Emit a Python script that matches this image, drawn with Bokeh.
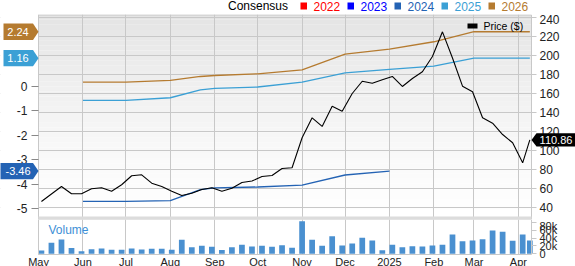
import pandas as pd
from bokeh.plotting import figure
from bokeh.models import Range1d, LinearAxis, FixedTicker
from bokeh.core.properties import value
from bokeh.layouts import column
from bokeh.embed import file_html
from bokeh.resources import INLINE

FONT = "Liberation Sans"

# ---------------- data ----------------
week_dates = list(pd.date_range("2024-05-03", "2025-04-04", freq="7D")) + [pd.Timestamp("2025-04-09")]
price = [46.0, 53.9, 61.8, 54.1, 54.1, 59.4, 60.4, 56.8, 63.6, 73.1,
         74.1, 65.3, 61.8, 56.8, 52.3, 54.7, 58.6, 60.4, 56.8, 60.0,
         66.0, 67.5, 72.3, 73.4, 80.7, 81.5, 113.1, 134.1, 125.0, 146.3,
         141.1, 159.7, 172.6, 170.5, 174.1, 177.6, 167.1, 175.5, 182.5, 198.6,
         224.6, 197.0, 167.4, 161.5, 134.1, 128.4, 116.5, 107.8, 86.7, 110.86]
volume_k = [8.4, 27.8, 36.0, 15.0, 6.6, 11.6, 13.4, 10.0, 10.0, 13.4,
            10.9, 12.6, 12.6, 10.0, 35.4, 16.8, 20.2, 17.6, 9.5, 16.8,
            22.7, 18.5, 20.2, 17.6, 21.8, 15.2, 82.5, 35.4, 20.2, 44.6,
            21.0, 26.0, 40.5, 33.7, 9.2, 22.7, 16.8, 19.4, 18.5, 21.0,
            22.7, 48.9, 32.0, 33.7, 37.0, 59.0, 55.7, 33.0, 48.9, 33.7]

est_dates = ["2024-06-01", "2024-07-01", "2024-08-01", "2024-08-22", "2024-09-01",
             "2024-10-01", "2024-11-01", "2024-12-01", "2025-01-01", "2025-02-01",
             "2025-03-01", "2025-04-01", "2025-04-09"]
eps_2026 = [0.18, 0.18, 0.25, 0.41, 0.45, 0.52, 0.68, 1.32, 1.53, 1.83, 2.24, 2.24, 2.24]
eps_2025 = [-0.57, -0.57, -0.46, -0.14, -0.08, -0.02, 0.18, 0.56, 0.70, 0.83, 1.16, 1.16, 1.16]
eps_2024 = [-4.70, -4.70, -4.67, -4.22, -4.15, -4.11, -4.03, -3.62, -3.46]

month_starts = ["2024-05-01", "2024-06-01", "2024-07-01", "2024-08-01", "2024-09-01",
                "2024-10-01", "2024-11-01", "2024-12-01", "2025-01-01", "2025-02-01",
                "2025-03-01", "2025-04-01"]
month_labels = ["May", "Jun", "Jul", "Aug", "Sep", "Oct", "Nov", "Dec", "2025", "Feb", "Mar", "Apr"]
price_ticks = [40, 60, 80, 100, 120, 140, 160, 180, 200, 220, 240]
eps_ticks = [0, -1, -2, -3, -4, -5]
vol_ticks = [0, 20, 40, 60, 80]
vol_labels = ["0", "20k", "40k", "60k", "80k"]

legend_title = "Consensus"
legend_years = ["2022", "2023", "2024", "2025", "2026"]
c2024, c2025, c2026 = "#2463b4", "#3ba0d5", "#b57b30"
legend_colors = ["#ff0000", "#0000ff", c2024, c2025, c2026]
GRID = "#c8c8c8"
LABEL_COLOR = "#222222"


def ms(s):
    return int(pd.Timestamp(s).value // 10**6)


# ---------------- geometry (canvas pixels) ----------------
W = 575
PL, PR = 38, 531                 # plot-area x extent
LEG_H = 14                       # legend strip height
MAIN_H = 205                     # main panel height (canvas 14..219)
VOL_H = 266 - LEG_H - MAIN_H     # volume panel + date labels (canvas 219..266)
VOL_BOTTOM = 254                 # bottom of the volume plot area

A, B = ms("2024-04-30 23:00"), ms("2025-04-10 04:00")
pp = (B - A) / (PR - PL)
xr = Range1d(A - PL * pp, B + (W - PR) * pp)


def xd(px):
    return A + (px - PL) * pp


month_ms = [ms(d) for d in month_starts]

# ---------------- legend strip ----------------
lg = figure(width=W, height=LEG_H, x_range=Range1d(0, W), y_range=Range1d(LEG_H, 0),
            x_axis_location=None, y_axis_location=None, title=None,
            output_backend="svg", toolbar_location=None,
            min_border_left=0, min_border_right=0, min_border_top=0, min_border_bottom=0,
            background_fill_color="white", border_fill_color="white", outline_line_color=None)
lg.grid.visible = False
leg_y = 5.5
sq_x = [300 + i * 47 for i in range(len(legend_years))]
lg.text(x=[227.5], y=[leg_y], text=[legend_title], text_color="black", text_font=value(FONT),
        text_font_size="12px", text_baseline="middle", text_align="left")
lg.quad(left=sq_x, right=[s + 6.5 for s in sq_x], top=[leg_y - 3.5] * 5, bottom=[leg_y + 3.5] * 5,
        fill_color=legend_colors, line_color=None)
lg.text(x=[s + 13 for s in sq_x], y=[leg_y] * 5, text=legend_years, text_color=legend_colors,
        text_font=value(FONT), text_font_size="12px", text_baseline="middle", text_align="left")

# ---------------- main panel ----------------
p_lo, p_hi = 27.05, 242.84
e_lo, e_hi = -5.44, 2.945


def yp(cy):
    return p_hi - (cy - LEG_H) * (p_hi - p_lo) / MAIN_H


def ye_px(npx):
    return npx * (e_hi - e_lo) / MAIN_H


p = figure(width=W, height=MAIN_H, x_range=xr, y_range=Range1d(p_lo, p_hi), title=None,
           x_axis_type="datetime", x_axis_location=None, y_axis_location="right",
           output_backend="svg", toolbar_location=None,
           min_border_left=0, min_border_right=0, min_border_top=0, min_border_bottom=0,
           background_fill_color="white", border_fill_color="white", outline_line_color=None)

# soft vertical gradient background of the plot area
nb = 40
step = (p_hi - p_lo) / nb
g_bot = [p_lo + i * step for i in range(nb)]
g_col = []
for i in range(nb):
    frac = (i + 0.5) / nb
    g = int(round(255 - 27 * frac ** 1.3))
    g_col.append(f"#{g:02x}{g:02x}{g:02x}")
p.quad(left=A, right=B, bottom=g_bot, top=[b + step for b in g_bot],
       fill_color=g_col, line_color=None, level="underlay")

p.xgrid.ticker = FixedTicker(ticks=month_ms)
p.yaxis.ticker = FixedTicker(ticks=price_ticks)
p.grid.grid_line_color = GRID

# keep grid lines inside the plot area
p.quad(left=[xr.start, B], right=[A, xr.end], bottom=p_lo, top=p_hi, fill_color="white", line_color=None)

ax = p.yaxis[0]
ax.fixed_location = B
ax.axis_line_color = None
ax.major_tick_out = 5
ax.major_tick_in = 0
ax.minor_tick_line_color = None
ax.major_tick_line_color = GRID
ax.major_label_standoff = 3
ax.major_label_text_font = FONT
ax.major_label_text_font_size = "12px"
ax.major_label_text_color = LABEL_COLOR

p.extra_y_ranges = {"eps": Range1d(e_lo, e_hi)}
lax = LinearAxis(y_range_name="eps", ticker=FixedTicker(ticks=eps_ticks), fixed_location=A,
                 major_label_overrides={t: str(t) for t in eps_ticks})
lax.axis_line_color = None
lax.major_tick_out = 7
lax.major_tick_in = 0
lax.major_tick_line_color = "#888888"
lax.minor_tick_line_color = None
lax.major_label_standoff = 4
lax.major_label_text_font = FONT
lax.major_label_text_font_size = "12px"
lax.major_label_text_color = LABEL_COLOR
p.add_layout(lax, "left")

est_x = pd.to_datetime(est_dates)
p.line(est_x, eps_2026, color=c2026, line_width=1.3, y_range_name="eps")
p.line(est_x, eps_2025, color=c2025, line_width=1.3, y_range_name="eps")
p.line(est_x[:len(eps_2024)], eps_2024, color=c2024, line_width=1.3, y_range_name="eps")
p.line(pd.to_datetime(week_dates), price, color="black", line_width=1.1)

# plot-area border and separator band
p.quad(left=A, right=B, bottom=p_lo, top=yp(14.5), fill_color=None, line_color=GRID)
p.quad(left=A, right=B, bottom=p_lo, top=yp(216), fill_color="#dcdcdc", line_color=None)

# price legend
p.quad(left=xd(467), right=xd(477), top=yp(23), bottom=yp(28), fill_color="black", line_color=None)
p.text(x=[xd(483)], y=[yp(25.5)], text=["Price ($)"], text_color="black", text_font=value(FONT),
       text_font_size="10.5px", text_baseline="middle", text_align="left")

# left value badges (last consensus values), drawn above the axis labels
b_vals = [eps_2026[-1], eps_2025[-1], eps_2024[-1]]
b_cols = [c2026, c2025, c2024]
b_left = [3, 3, 0]
h = ye_px(8.2)
p.patches(xs=[[xd(l), xd(32.5), xd(38), xd(32.5), xd(l)] for l in b_left],
          ys=[[v + h, v + h, v, v - h, v - h] for v in b_vals],
          fill_color=b_cols, line_color=None, y_range_name="eps", level="overlay")
p.text(x=[xd(17.5)] * 3, y=b_vals, text=[f"{v:.2f}" for v in b_vals], text_color="white",
       text_font=value(FONT), text_font_size="11px", text_baseline="middle", text_align="center",
       y_range_name="eps", level="overlay")

# right price badge
last = price[-1]
hp = 6.7 * (p_hi - p_lo) / MAIN_H
p.patch(x=[xd(531), xd(536), xd(575), xd(575), xd(536)], y=[last, last + hp, last + hp, last - hp, last - hp],
        fill_color="black", line_color=None, level="overlay")
p.text(x=[xd(555.5)], y=[last], text=[f"{last:.2f}"], text_color="white", text_font=value(FONT),
       text_font_size="11px", text_baseline="middle", text_align="center", level="overlay")

# ---------------- volume panel ----------------
V0, VK = 253.3, 0.395            # canvas y of zero volume, pixels per thousand
V_TOP = LEG_H + MAIN_H
v_hi = (V0 - V_TOP) / VK
v_lo = -(266 - V0) / VK


def yv(cy):
    return v_hi - (cy - V_TOP) * (v_hi - v_lo) / VOL_H


vb = yv(VOL_BOTTOM)

v = figure(width=W, height=VOL_H, x_range=xr, y_range=Range1d(v_lo, v_hi), title=None,
           x_axis_type="datetime", y_axis_location="right",
           output_backend="svg", toolbar_location=None,
           min_border_left=0, min_border_right=0, min_border_top=0, min_border_bottom=0,
           background_fill_color="white", border_fill_color="white", outline_line_color=None)
v.xgrid.ticker = FixedTicker(ticks=month_ms)
v.xgrid.grid_line_color = GRID
v.ygrid.grid_line_color = None
# hide grid below the volume plot area
v.quad(left=xr.start, right=xr.end, bottom=v_lo, top=vb, fill_color="white", line_color=None)
v.vbar(x=pd.to_datetime(week_dates), top=volume_k, width=4 * 86400000, bottom=0,
       fill_color="#4a90d0", line_color=None)
v.quad(left=A, right=B, bottom=vb, top=v_hi, fill_color=None, line_color=GRID)

xa = v.xaxis[0]
xa.fixed_location = vb
xa.ticker = FixedTicker(ticks=month_ms)
xa.major_label_overrides = dict(zip(month_ms, month_labels))
xa.axis_line_color = None
xa.major_tick_out = 0
xa.major_tick_in = 0
xa.minor_tick_out = 0
xa.minor_tick_in = 0
xa.minor_tick_line_color = None
xa.major_label_standoff = 1
xa.major_label_text_font = FONT
xa.major_label_text_font_size = "11px"
xa.major_label_text_color = LABEL_COLOR

va = v.yaxis[0]
va.fixed_location = B
va.ticker = FixedTicker(ticks=vol_ticks)
va.major_label_overrides = dict(zip(vol_ticks, vol_labels))
va.axis_line_color = None
va.major_tick_out = 5
va.major_tick_in = 0
va.major_tick_line_color = GRID
va.minor_tick_line_color = None
va.major_label_standoff = 3
va.major_label_text_font = FONT
va.major_label_text_font_size = "11px"
va.major_label_text_color = LABEL_COLOR

v.text(x=[xd(48)], y=[yv(229)], text=["Volume"], text_color="#3d8fd6", text_font=value(FONT),
       text_font_size="12px", text_baseline="middle", text_align="left")

layout = column(lg, p, v, spacing=0)
open("out.html", "w").write(file_html(layout, INLINE))
